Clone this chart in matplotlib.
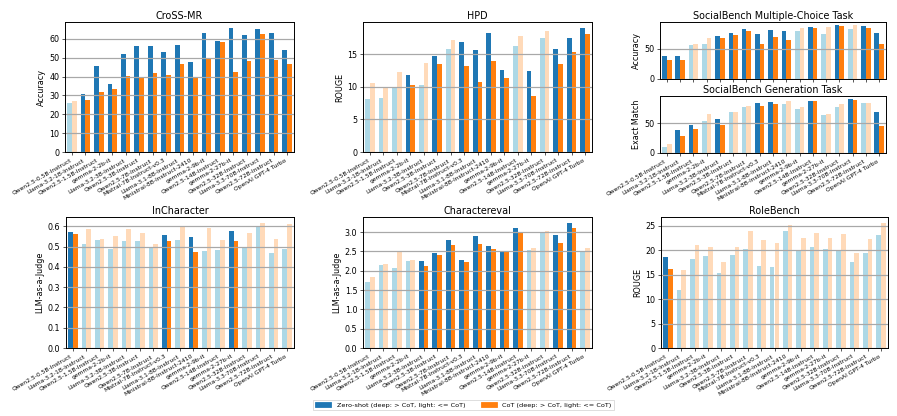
import numpy as np
import matplotlib
matplotlib.use("Agg")
import matplotlib.pyplot as plt
from matplotlib.patches import Patch
from matplotlib.ticker import MultipleLocator

models = [
    "Qwen2.5-0.5B-Instruct", "Llama-3.2-1B-Instruct", "Qwen2.5-1.5B-Instruct",
    "gemma-2-2b-it", "Llama-3.2-3B-Instruct", "Qwen2.5-3B-Instruct",
    "Qwen2.5-7B-Instruct", "Mistral-7B-Instruct-v0.3", "Llama-3.1-8B-Instruct",
    "Ministral-8B-Instruct-2410", "gemma-2-9b-it", "Qwen2.5-14B-Instruct",
    "gemma-2-27b-it", "Qwen2.5-32B-Instruct", "Llama-3.3-70B-Instruct",
    "Qwen2.5-72B-Instruct", "OpenAI GPT-4 Turbo",
]

cross_zero = [26.0, 30.8, 45.7, 36.2, 52.1, 56.1, 56.1, 53.0, 56.5, 47.7, 63.0, 58.8, 65.6, 62.1, 65.1, 63.0, 54.0]
cross_cot = [27.1, 27.8, 31.8, 33.4, 40.1, 39.9, 41.9, 40.8, 46.5, 39.2, 49.8, 58.2, 42.4, 48.2, 62.5, 48.7, 46.5]

hpd_zero = [8.2, 8.3, 9.8, 11.8, 10.3, 14.7, 15.8, 16.9, 15.7, 18.25, 12.6, 16.3, 12.5, 17.5, 15.8, 17.5, 19.0]
hpd_cot = [10.6, 9.8, 12.3, 10.3, 13.7, 13.5, 17.2, 13.2, 10.8, 14.0, 11.4, 17.8, 8.6, 18.55, 13.5, 15.35, 18.15]

sbmc_zero = [37.6, 37.6, 56.2, 57.9, 71.3, 76.4, 83.1, 74.7, 81.5, 79.8, 79.8, 86.5, 74.7, 89.9, 83.1, 88.2, 76.4]
sbmc_cot = [30.9, 30.9, 57.9, 68.0, 68.0, 73.0, 79.8, 57.9, 69.7, 64.6, 84.8, 84.8, 86.5, 88.2, 89.9, 84.8, 57.9]

sbgen_zero = [10.1, 38.8, 47.2, 53.9, 57.3, 69.1, 77.5, 84.3, 86.0, 82.6, 74.2, 87.8, 64.0, 77.5, 91.0, 84.3, 69.1]
sbgen_cot = [15.2, 28.7, 40.4, 65.7, 47.2, 69.1, 79.2, 79.2, 82.6, 87.6, 77.5, 87.6, 65.7, 82.6, 89.3, 84.3, 45.5]

inchar_zero = [0.570, 0.513, 0.532, 0.486, 0.526, 0.526, 0.500, 0.557, 0.532, 0.547, 0.478, 0.483, 0.577, 0.500, 0.597, 0.468, 0.486]
inchar_cot = [0.562, 0.585, 0.537, 0.552, 0.585, 0.565, 0.513, 0.526, 0.602, 0.471, 0.592, 0.532, 0.526, 0.565, 0.615, 0.537, 0.612]

chareval_zero = [1.70, 2.14, 2.07, 2.25, 2.25, 2.46, 2.79, 2.27, 2.90, 2.64, 2.50, 3.10, 2.53, 2.98, 2.92, 3.23, 2.52]
chareval_cot = [1.83, 2.17, 2.52, 2.29, 2.12, 2.40, 2.66, 2.22, 2.69, 2.56, 2.49, 3.00, 2.58, 3.04, 2.71, 3.10, 2.58]

rolebench_zero = [18.65, 11.9, 18.2, 18.85, 15.4, 19.05, 20.3, 16.8, 16.6, 23.85, 20.1, 20.7, 20.3, 20.1, 17.5, 19.5, 23.0]
rolebench_cot = [16.2, 16.0, 21.1, 20.7, 17.6, 20.7, 24.0, 22.1, 21.4, 25.2, 22.4, 23.6, 22.4, 23.4, 19.5, 22.2, 25.5]

DEEP_BLUE, DEEP_ORANGE = "#1f77b4", "#ff7f0e"
LIGHT_BLUE, LIGHT_ORANGE = "lightblue", "peachpuff"

W, H = 897, 416
fig = plt.figure(figsize=(W / 58, H / 58), dpi=58)


def px_axes(x0, y0, x1, y1):
    # pixel box (top-left origin) -> figure axes
    return fig.add_axes([x0 / W, 1 - y1 / H, (x1 - x0) / W, (y1 - y0) / H])


def plot_panel(ax, zero, cot, title, ylabel, step, show_labels=True):
    zero = np.array(zero)
    cot = np.array(cot)
    x = np.arange(len(models))
    width = 0.35
    deep = zero > cot
    zc = [DEEP_BLUE if d else LIGHT_BLUE for d in deep]
    cc = [DEEP_ORANGE if d else LIGHT_ORANGE for d in deep]
    ax.bar(x - width / 2, zero, width, color=zc)
    ax.bar(x + width / 2, cot, width, color=cc)
    ax.set_title(title, pad=4)
    ax.set_ylabel(ylabel)
    ax.yaxis.set_major_locator(MultipleLocator(step))
    ax.grid(axis="y", color="#a8a8a8", linewidth=1.5)
    ax.margins(x=0.01)
    ax.set_xticks(x)
    if show_labels:
        ax.set_xticklabels(models, rotation=30, ha="right", fontsize=7.5)
    else:
        ax.set_xticklabels([])
    for s in ax.spines.values():
        s.set_linewidth(1.2)


ax1 = px_axes(65, 22, 294, 152)
plot_panel(ax1, cross_zero, cross_cot, "CroSS-MR", "Accuracy", 10)

ax2 = px_axes(363, 22, 592, 152)
plot_panel(ax2, hpd_zero, hpd_cot, "HPD", "ROUGE", 5)

ax3 = px_axes(660, 22, 886, 79)
plot_panel(ax3, sbmc_zero, sbmc_cot, "SocialBench Multiple-Choice Task", "Accuracy", 50,
           show_labels=False)

ax4 = px_axes(660, 96, 886, 153)
plot_panel(ax4, sbgen_zero, sbgen_cot, "SocialBench Generation Task", "Exact Match", 50)

ax5 = px_axes(66, 217, 294, 348)
plot_panel(ax5, inchar_zero, inchar_cot, "InCharacter", "LLM-as-a-Judge", 0.1)

ax6 = px_axes(363, 217, 592, 348)
plot_panel(ax6, chareval_zero, chareval_cot, "Charactereval", "LLM-as-a-Judge", 0.5)

ax7 = px_axes(661, 217, 888, 348)
plot_panel(ax7, rolebench_zero, rolebench_cot, "RoleBench", "ROUGE", 5)

handles = [
    Patch(color=DEEP_BLUE, label="Zero-shot (deep: > CoT, light: <= CoT)"),
    Patch(color=DEEP_ORANGE, label="CoT (deep: > CoT, light: <= CoT)"),
]
fig.legend(handles=handles, loc="center", ncol=2, fontsize=8,
           bbox_to_anchor=(463.5 / W, 1 - 405 / H), frameon=True,
           handlelength=2.5, columnspacing=2.5, fancybox=False)

fig.savefig("out.png", dpi=58)
